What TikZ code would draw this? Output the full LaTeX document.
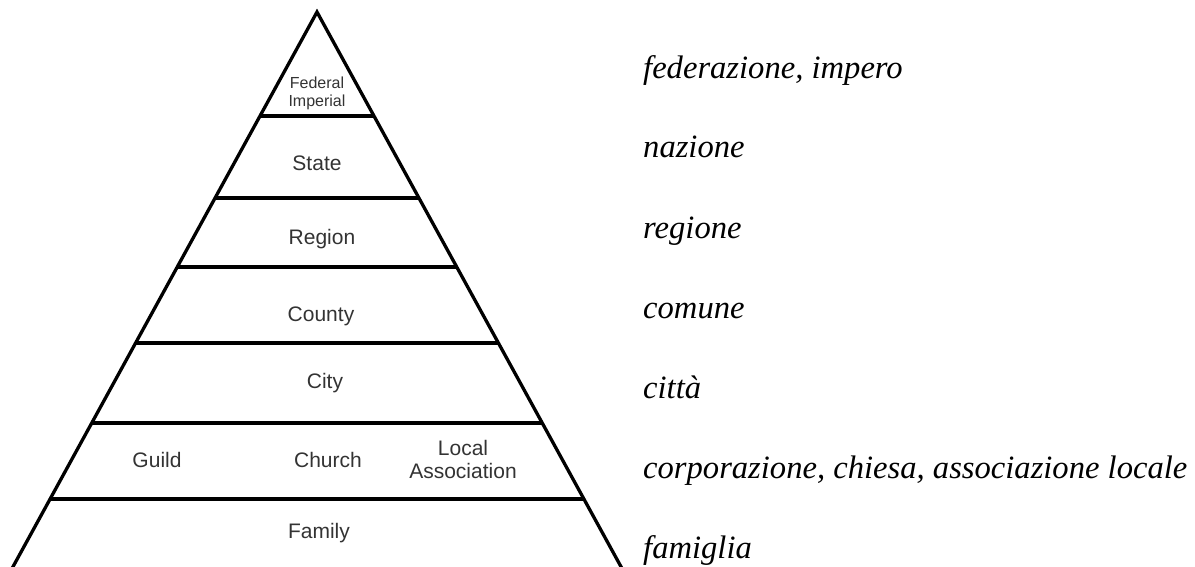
\documentclass[tikz,border=0pt]{standalone}
\usepackage{fontspec}
\setmainfont{Liberation Serif}
\newfontfamily\labelsans{Liberation Sans}
\usetikzlibrary{calc}
\definecolor{labelgray}{HTML}{333333}
\begin{document}
\begin{tikzpicture}[x=1pt,y=-1pt,
  edge/.style={line width=3.3pt,black},
  level/.style={line width=3.2pt,black},
  tier/.style={inner sep=0pt,anchor=base,text=labelgray,font=\labelsans\fontsize{21}{25}\selectfont,align=center},
  smalltier/.style={inner sep=0pt,anchor=base,text=labelgray,font=\labelsans\fontsize{16}{19}\selectfont},
  gloss/.style={inner sep=0pt,anchor=base west,text=black,font=\itshape\fontsize{32.6}{38}\selectfont}]
\useasboundingbox (0,0) rectangle (1195,566);
% pyramid
\coordinate (A) at (317,12);
\coordinate (BL) at (7.9,576);
\coordinate (BR) at (626.1,576);
\foreach \y in {116,198,267,343,423,499}{
  \draw[level] ($(A)!{(\y-12)/564}!(BL)$) -- ($(A)!{(\y-12)/564}!(BR)$);
}
\draw[edge,line join=miter,miter limit=20] (BL) -- (A) -- (BR);
% tier labels
\node[smalltier] (fed) at (317,88) {Federal};
\node[smalltier] (imp) at (317,106) {Imperial};
\node[tier] (state) at (317,170) {State};
\node[tier] (region) at (322,244) {Region};
\node[tier] (county) at (321,321) {County};
\node[tier] (city) at (325,388) {City};
\node[tier] (guild) at (157,467) {Guild};
\node[tier] (church) at (328,467) {Church};
\node[tier] (local) at (463,455) {Local};
\node[tier] (assoc) at (463,478) {Association};
\node[tier] (family) at (319,538) {Family};
% italian glosses
\node[gloss] (g1) at (643,78) {federazione, impero};
\node[gloss] (g2) at (643,157) {nazione};
\node[gloss] (g3) at (643,238) {regione};
\node[gloss] (g4) at (643,318) {comune};
\node[gloss] (g5) at (643,398) {città};
\node[gloss] (g6) at (643,478) {corporazione, chiesa, associazione locale};
\node[gloss] (g7) at (643,558) {famiglia};
\end{tikzpicture}
\end{document}
